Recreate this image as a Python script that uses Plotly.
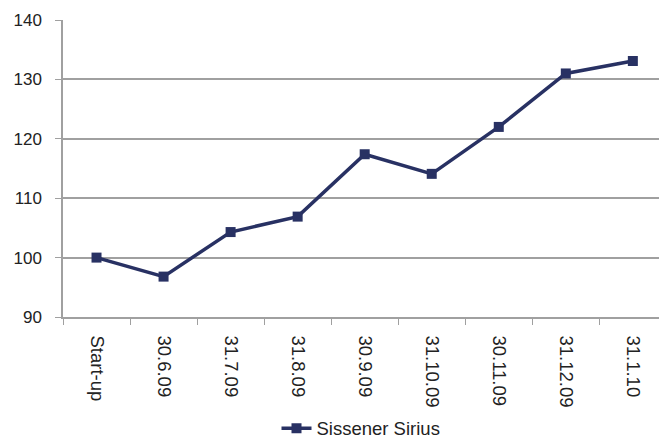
import plotly.graph_objects as go

categories = ["Start-up", "30.6.09", "31.7.09", "31.8.09", "30.9.09",
              "31.10.09", "30.11.09", "31.12.09", "31.1.10"]
values = [100.0, 96.8, 104.3, 106.9, 117.4, 114.1, 122.0, 131.0, 133.1]
series_name = "Sissener Sirius"

navy = "#283163"
grey = "#a0a0a0"
family = "Liberation Sans, Arial, sans-serif"
txt = "#222222"

fig = go.Figure()
fig.add_trace(go.Scatter(
    x=categories, y=values, name=series_name, mode="lines+markers",
    line=dict(color=navy, width=3.5),
    marker=dict(symbol="square", size=10, color=navy),
))

fig.update_layout(
    width=659, height=448,
    margin=dict(l=63, r=0, t=20, b=125),
    paper_bgcolor="white", plot_bgcolor="white",
    font=dict(family=family, size=17, color=txt),
    showlegend=True,
    legend=dict(orientation="h", x=0.5, xanchor="center", y=-0.376, yanchor="middle",
                font=dict(family=family, size=18.5, color=txt),
                bgcolor="rgba(0,0,0,0)"),
)
fig.update_xaxes(
    type="category", range=[-0.5, 8.39], automargin=False,
    showline=True, linecolor=grey, linewidth=1.5,
    ticks="outside", ticklen=6, tickcolor=grey, tickson="boundaries",
    tickangle=90, showgrid=False, ticklabelstandoff=13,
    tickfont=dict(family=family, size=18.5, color=txt),
)
fig.update_yaxes(
    range=[90, 140], dtick=10, automargin=False,
    showline=True, linecolor=grey, linewidth=1.5,
    ticks="outside", ticklen=6, tickcolor=grey,
    showgrid=True, gridcolor=grey, gridwidth=1.5,
    zeroline=False, ticklabelstandoff=10,
    tickfont=dict(family=family, size=17, color=txt),
)
fig.write_html("out.html",
               config={"displayModeBar": False},
               post_script="document.body.style.margin='0';document.body.style.overflow='hidden';")
